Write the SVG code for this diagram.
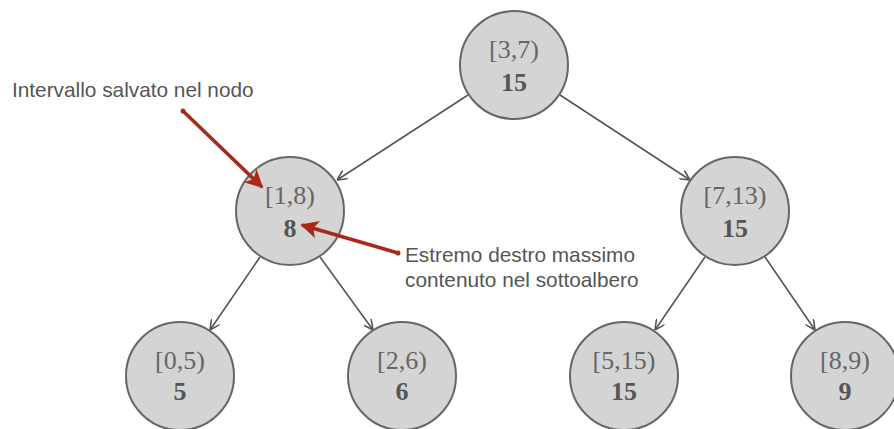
<svg xmlns="http://www.w3.org/2000/svg" width="894" height="429" viewBox="0 0 894 429">
<defs>
<style>
.node circle{fill:#d4d4d4;stroke:#666;stroke-width:2}
.iv{font-family:"Liberation Serif",serif;font-size:26px;fill:#666;text-anchor:middle}
.mx{font-family:"Liberation Serif",serif;font-size:26px;font-weight:bold;fill:#555;text-anchor:middle}
.edge{stroke:#555;stroke-width:1.6;fill:none;marker-end:url(#ah)}
.red{stroke:#a8291c;stroke-width:3.5;fill:none;marker-end:url(#rh)}
.note{font-family:"Liberation Sans",Arial,sans-serif;font-size:20.8px;fill:#555}
</style>
<marker id="ah" viewBox="0 0 10 10" refX="10" refY="5" markerWidth="10" markerHeight="10" markerUnits="userSpaceOnUse" orient="auto">
<path d="M0,0 L10,5 L0,10" fill="none" stroke="#555" stroke-width="1.6"/>
</marker>
<marker id="rh" viewBox="0 0 10 10" refX="9" refY="5" markerWidth="20" markerHeight="18" markerUnits="userSpaceOnUse" orient="auto">
<path d="M0,0 L10,5 L0,10 L2.5,5 Z" fill="#a8291c"/>
</marker>
</defs>
<g id="connectors">
<line class="edge" x1="468" y1="95" x2="337" y2="180"/>
<line class="edge" x1="560" y1="95" x2="690" y2="180"/>
<line class="edge" x1="260" y1="257" x2="210" y2="330"/>
<line class="edge" x1="320" y1="257" x2="373" y2="330"/>
<line class="edge" x1="705" y1="257" x2="655" y2="330"/>
<line class="edge" x1="765" y1="257" x2="815" y2="330"/>
</g>
<g id="node-3-7" class="node"><circle cx="514" cy="65" r="54"/><text class="iv" x="514" y="58">[3,7)</text><text class="mx" x="514" y="91">15</text></g>
<g id="node-1-8" class="node"><circle cx="290" cy="211" r="54"/><text class="iv" x="290" y="204">[1,8)</text><text class="mx" x="290" y="237">8</text></g>
<g id="node-7-13" class="node"><circle cx="735" cy="211" r="54"/><text class="iv" x="735" y="204">[7,13)</text><text class="mx" x="735" y="237">15</text></g>
<g id="node-0-5" class="node"><circle cx="180" cy="376" r="54"/><text class="iv" x="180" y="369">[0,5)</text><text class="mx" x="180" y="400">5</text></g>
<g id="node-2-6" class="node"><circle cx="402" cy="376" r="54"/><text class="iv" x="402" y="369">[2,6)</text><text class="mx" x="402" y="400">6</text></g>
<g id="node-5-15" class="node"><circle cx="624" cy="376" r="54"/><text class="iv" x="624" y="369">[5,15)</text><text class="mx" x="624" y="400">15</text></g>
<g id="node-8-9" class="node"><circle cx="845" cy="376" r="54"/><text class="iv" x="845" y="369">[8,9)</text><text class="mx" x="845" y="400">9</text></g>
<g id="annotations">
<circle cx="183" cy="111" r="2.5" fill="#a8291c"/>
<line class="red" x1="183" y1="111" x2="262" y2="187"/>
<text class="note" x="12" y="97">Intervallo salvato nel nodo</text>
<circle cx="398" cy="253" r="2.5" fill="#a8291c"/>
<line class="red" x1="398" y1="253" x2="302" y2="225"/>
<text class="note" x="405" y="262">Estremo destro massimo</text>
<text class="note" x="405" y="287">contenuto nel sottoalbero</text>
</g>
</svg>
